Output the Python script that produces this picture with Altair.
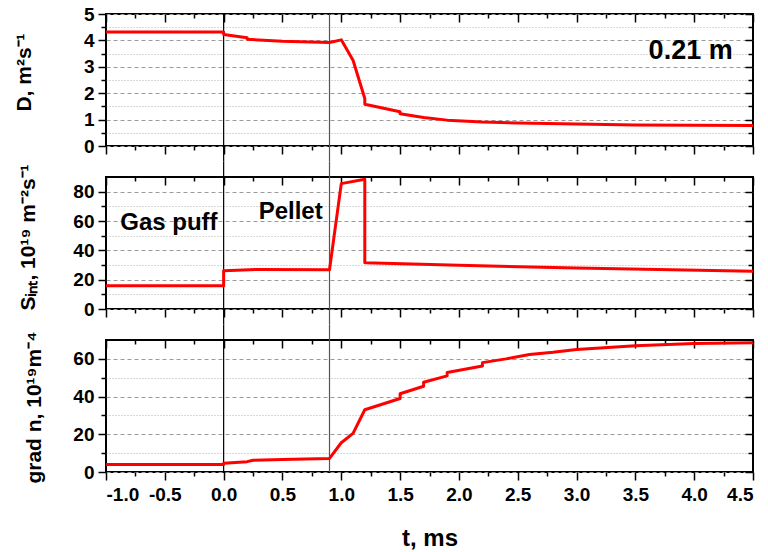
import altair as alt
import pandas as pd

FONT = "Liberation Sans"

# ---------------- data ----------------
t_D = [-1.0, 0.0, 0.0, 0.2, 0.2, 0.5, 0.9, 1.0, 1.1, 1.2, 1.2, 1.5, 1.5, 1.7, 1.9, 2.2, 2.5, 3.0, 3.5, 4.0, 4.5]
D_val = [4.32, 4.32, 4.22, 4.1, 4.04, 3.97, 3.92, 4.02, 3.25, 1.8, 1.58, 1.3, 1.22, 1.08, 0.98, 0.91, 0.87, 0.83, 0.8, 0.79, 0.78]

t_S = [-1.0, 0.0, 0.0, 0.3, 0.9, 1.0, 1.2, 1.2, 2.0, 3.0, 4.5]
S_val = [15.8, 15.8, 26.0, 27.0, 26.8, 85.5, 88.5, 31.5, 29.8, 28.0, 25.8]

t_G = [-1.0, 0.0, 0.0, 0.2, 0.25, 0.5, 0.9, 1.0, 1.1, 1.2, 1.5, 1.5, 1.7, 1.7, 1.9, 1.9, 2.2, 2.2,
       2.4, 2.6, 2.8, 3.0, 3.5, 4.0, 4.5]
G_val = [4.0, 4.0, 4.6, 5.5, 6.2, 6.6, 7.2, 15.5, 20.5, 33.0, 39.0, 41.5, 45.5, 47.6, 51.0, 52.8, 56.2, 58.0,
         60.0, 62.3, 63.5, 65.0, 67.0, 68.1, 68.5]

X_MAJOR = [-1.0, -0.5, 0.0, 0.5, 1.0, 1.5, 2.0, 2.5, 3.0, 3.5, 4.0, 4.5]
X_MINOR = [-0.75, -0.25, 0.25, 0.75, 1.25, 1.75, 2.25, 2.75, 3.25, 3.75, 4.25]

D_MAJOR = [0, 1, 2, 3, 4, 5]
D_MINOR = [0.5, 1.5, 2.5, 3.5, 4.5]
S_MAJOR = [0, 20, 40, 60, 80]
S_MINOR = [10, 30, 50, 70]
G_MAJOR = [0, 20, 40, 60]
G_MINOR = [10, 30, 50]

marker_t = [0.0, 0.9]
marker_color = ["#000000", "#555555"]

ann_top_text = ["0.21 m"]
ann_top_t = [3.97]
ann_top_v = [3.6]

ann_mid_text = ["Gas puff", "Pellet"]
ann_mid_t = [-0.465, 0.57]
ann_mid_v = [58.5, 66.0]

W, H = 647, 132
GAP = 31

X_LABEL_EXPR = "datum.value < 0 ? '-' + format(-datum.value, '.1f') : format(datum.value, '.1f')"


def make_panel(t, v, ymax, y_major, y_minor, ytitle, title_x, title_y, position, ann=None, ann_size=24):
    df = pd.DataFrame({"t": t, "v": v, "i": list(range(len(t)))})
    xs = alt.Scale(domain=[-1.0, 4.5], nice=False, zero=False)
    ys = alt.Scale(domain=[0, ymax], nice=False, zero=True)
    common = dict(domain=False, tickColor="black", tickWidth=1.5)
    base = alt.Chart(df)

    # main layer: line + bottom/left major axes
    xkw = dict(orient="bottom", values=X_MAJOR, tickSize=8, grid=False, **common)
    if position == "bottom":
        xkw.update(labels=True, labelExpr=X_LABEL_EXPR, labelFont=FONT, labelFontWeight="bold",
                   labelFontSize=19, labelColor="black", labelPadding=5,
                   title="t, ms", titleFont=FONT, titleFontSize=24, titleFontWeight="bold",
                   titleColor="black", titleY=73, titleBaseline="alphabetic")
    else:
        xkw.update(labels=False, title=None)
    ykw = dict(orient="left", values=y_major, tickSize=8, grid=True, gridDash=[4, 3],
               gridColor="#9a9a9a", gridWidth=1, labels=True, labelFont=FONT,
               labelFontWeight="bold", labelFontSize=19, labelColor="black", labelPadding=4,
               title=ytitle, titleFont=FONT, titleFontSize=21, titleFontWeight="bold",
               titleColor="black", titleX=title_x, titleY=title_y, titleAngle=270,
               titleBaseline="middle", titleAlign="center", **common)
    line = base.mark_line(color="#ff0000", strokeWidth=3, strokeJoin="round").encode(
        x=alt.X("t:Q", scale=xs, axis=alt.Axis(**xkw)),
        y=alt.Y("v:Q", scale=ys, axis=alt.Axis(**ykw)),
        order="i:Q",
    )

    # minor ticks bottom/left + minor grid
    minor = base.mark_line(opacity=0).encode(
        x=alt.X("t:Q", scale=xs, axis=alt.Axis(orient="bottom", values=X_MINOR, tickSize=4,
                                                labels=False, grid=False, title=None, **common)),
        y=alt.Y("v:Q", scale=ys, axis=alt.Axis(orient="left", values=y_minor, tickSize=5,
                                                labels=False, grid=True, gridDash=[1, 2],
                                                gridColor="#b0b0b0", gridWidth=1, title=None, **common)),
        order="i:Q",
    )

    # mirrored (inward) major ticks top/right
    mirror_major = base.mark_line(opacity=0).encode(
        x=alt.X("t:Q", scale=xs, axis=alt.Axis(orient="top", offset=-8, values=X_MAJOR, tickSize=8,
                                                labels=False, grid=False, title=None, **common)),
        y=alt.Y("v:Q", scale=ys, axis=alt.Axis(orient="right", offset=-8, values=y_major, tickSize=8,
                                                labels=False, grid=False, title=None, **common)),
        order="i:Q",
    )
    # mirrored (inward) minor ticks top/right
    mirror_minor = base.mark_line(opacity=0).encode(
        x=alt.X("t:Q", scale=xs, axis=alt.Axis(orient="top", offset=-4, values=X_MINOR, tickSize=4,
                                                labels=False, grid=False, title=None, **common)),
        y=alt.Y("v:Q", scale=ys, axis=alt.Axis(orient="right", offset=-5, values=y_minor, tickSize=5,
                                                labels=False, grid=False, title=None, **common)),
        order="i:Q",
    )

    # vertical marker lines that run through the gaps between panels
    y_top = 0 if position == "top" else -GAP / 2
    y_bot = H if position == "bottom" else H + GAP / 2
    mdf = pd.DataFrame({"t": marker_t, "c": marker_color})
    rules = alt.Chart(mdf).mark_rule(strokeWidth=1.2).encode(
        x=alt.X("t:Q", scale=xs, axis=None),
        y=alt.value(y_top),
        y2=alt.value(y_bot),
        color=alt.Color("c:N", scale=None),
    )

    layers = [minor, mirror_major, mirror_minor, rules, line]
    if ann is not None:
        adf = pd.DataFrame({"t": ann[0], "v": ann[1], "txt": ann[2]})
        text = alt.Chart(adf).mark_text(font=FONT, fontWeight="bold", fontSize=ann_size,
                                        color="black", align="center", baseline="middle").encode(
            x=alt.X("t:Q", scale=xs, axis=None),
            y=alt.Y("v:Q", scale=ys, axis=None),
            text="txt:N",
        )
        layers.append(text)

    return alt.layer(*layers).resolve_axis(x="independent", y="independent").properties(
        width=W, height=H)


p1 = make_panel(t_D, D_val, 5, D_MAJOR, D_MINOR, "D, m²s⁻¹", -82, 58, "top",
                ann=(ann_top_t, ann_top_v, ann_top_text), ann_size=27)
p2 = make_panel(t_S, S_val, 90, S_MAJOR, S_MINOR, "Sᵢₙₜ, 10¹⁹ m⁻²s⁻¹", -78, 60, "middle",
                ann=(ann_mid_t, ann_mid_v, ann_mid_text), ann_size=24)
p3 = make_panel(t_G, G_val, 70, G_MAJOR, G_MINOR, "grad n, 10¹⁹m⁻⁴", -72, 67, "bottom")

chart = alt.vconcat(p1, p2, p3, spacing=GAP, bounds="flush").properties(
    padding={"left": 12, "top": 4, "right": 1, "bottom": 0},
    background="white",
).configure_view(stroke="black", strokeWidth=2)

chart.save("out.html", embed_options={"renderer": "svg", "actions": False})
